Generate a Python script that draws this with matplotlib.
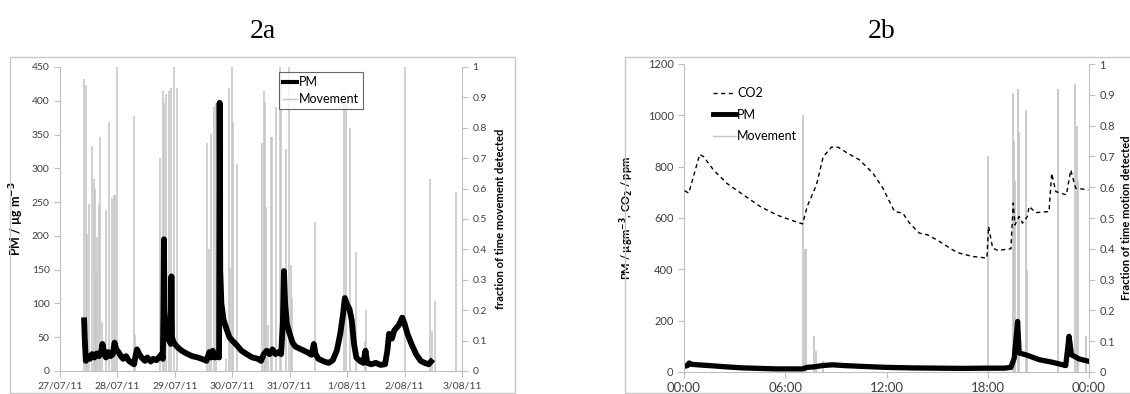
import numpy as np
import matplotlib
matplotlib.use("Agg")
import matplotlib.pyplot as plt
from matplotlib.patches import Rectangle

plt.rcParams['font.family'] = ['Lato', 'DejaVu Sans']
plt.rcParams['mathtext.fontset'] = 'dejavusans'

# ---- 2a data (days since 27/07/11) ----
pm_a_day = [0.42, 0.43, 0.45, 0.48, 0.52, 0.56, 0.60, 0.64, 0.68, 0.72, 0.74, 0.77, 0.80, 0.84,
            0.88, 0.92, 0.95, 0.98, 1.02, 1.06, 1.10, 1.15, 1.20, 1.25, 1.29, 1.31, 1.34, 1.38,
            1.42, 1.48, 1.52, 1.58, 1.62, 1.68, 1.72, 1.77, 1.79, 1.80, 1.81, 1.82, 1.85, 1.90,
            1.93, 1.94, 1.95, 1.98, 2.05, 2.12, 2.20, 2.30, 2.40, 2.50, 2.55, 2.60, 2.63, 2.66,
            2.70, 2.74, 2.77, 2.78, 2.79, 2.81, 2.85, 2.90, 2.95, 3.00, 3.08, 3.16, 3.25, 3.35,
            3.45, 3.50, 3.55, 3.60, 3.65, 3.70, 3.75, 3.80, 3.85, 3.88, 3.90, 3.92, 3.95, 4.00,
            4.05, 4.10, 4.20, 4.30, 4.38, 4.42, 4.45, 4.50, 4.60, 4.68, 4.75, 4.82, 4.88, 4.93,
            4.96, 5.00, 5.04, 5.08, 5.12, 5.16, 5.22, 5.28, 5.32, 5.35, 5.42, 5.50, 5.58, 5.66,
            5.70, 5.73, 5.78, 5.82, 5.90, 5.96, 6.00, 6.05, 6.12, 6.20, 6.28, 6.35, 6.42, 6.46]
pm_a_val = [75, 50, 15, 22, 18, 25, 20, 26, 22, 30, 40, 25, 20, 28,
            22, 25, 42, 32, 28, 22, 18, 22, 15, 12, 10, 20, 32, 25,
            20, 15, 20, 14, 18, 16, 20, 25, 18, 80, 195, 90, 55, 45,
            40, 140, 50, 42, 35, 30, 26, 22, 20, 17, 15, 28, 20, 30,
            20, 25, 20, 397, 150, 100, 75, 62, 50, 45, 38, 30, 25, 20,
            18, 15, 25, 30, 25, 32, 25, 28, 25, 70, 148, 100, 70, 55,
            42, 36, 32, 28, 24, 40, 25, 18, 14, 12, 16, 30, 55, 85,
            108, 98, 92, 75, 40, 20, 15, 12, 30, 12, 10, 12, 9, 10,
            30, 55, 48, 60, 68, 79, 70, 55, 40, 25, 15, 12, 10, 14]

mov_a_day = [0.423, 0.452, 0.475, 0.510, 0.557, 0.591, 0.609, 0.626, 0.649, 0.672, 0.701, 0.736,
             0.800, 0.858, 0.904, 0.939, 0.957, 0.986, 1.287, 1.310, 1.739, 1.786, 1.809, 1.843,
             1.896, 1.936, 1.983, 2.029, 2.551, 2.591, 2.638, 2.678, 2.713, 2.887, 2.939, 2.968,
             2.997, 3.014, 3.084, 3.513, 3.548, 3.577, 3.594, 3.629, 3.675, 3.699, 3.757, 3.826,
             3.855, 3.942, 3.988, 4.017, 4.046, 4.435, 4.939, 4.974, 5.043, 5.159, 5.304, 5.333,
             6.000, 6.435, 6.475, 6.522, 6.899]
mov_a_val = [0.96, 0.94, 0.45, 0.55, 0.74, 0.63, 0.60, 0.32, 0.44, 0.55, 0.77, 0.16,
             0.53, 0.82, 0.57, 0.58, 0.58, 1.00, 0.84, 0.12, 0.70, 0.92, 0.88, 0.91,
             0.92, 0.93, 1.00, 0.93, 0.75, 0.40, 0.78, 0.87, 0.88, 0.04, 0.93, 0.34,
             1.00, 0.82, 0.68, 0.75, 0.92, 0.88, 0.54, 0.15, 0.77, 0.77, 0.87, 1.00,
             0.98, 0.73, 1.00, 0.35, 0.24, 0.49, 0.92, 0.88, 0.80, 0.39, 0.10, 0.20,
             1.00, 0.63, 0.13, 0.23, 0.59]

date_labels = ['27/07/11', '28/07/11', '29/07/11', '30/07/11', '31/07/11', '1/08/11', '2/08/11', '3/08/11']

# ---- 2b data (hours) ----
co2_hr = [0.04, 0.28, 0.67, 0.93, 1.16, 1.75, 2.54, 3.52, 4.51, 5.49, 6.28, 7.03, 7.30, 7.85,
          8.25, 8.74, 9.13, 9.63, 10.41, 11.20, 11.79, 12.18, 12.48, 12.97, 13.36, 13.95, 14.45,
          15.13, 15.92, 16.32, 17.11, 17.95, 18.05, 18.29, 18.58, 19.37, 19.51, 19.61, 19.86,
          20.06, 20.35, 20.45, 20.85, 21.63, 21.79, 22.03, 22.66, 22.92, 23.21, 23.96]
co2_val = [706, 697, 787, 848, 839, 787, 735, 690, 645, 612, 593, 577, 645, 729,
           839, 876, 876, 855, 826, 774, 716, 664, 625, 619, 580, 541, 534,
           509, 476, 463, 450, 444, 567, 483, 474, 480, 658, 573, 606,
           580, 606, 645, 621, 625, 774, 703, 690, 787, 716, 710]

pm_b_hr = [0.0, 0.2, 0.3, 0.45, 0.8, 1.5, 2.5, 3.5, 4.5, 5.5, 6.5, 7.0, 7.3, 7.7, 8.2, 8.8,
           9.5, 10.5, 12.0, 13.5, 15.0, 16.5, 18.0, 19.0, 19.37, 19.57, 19.77, 19.86, 20.26,
           21.05, 21.83, 22.62, 22.82, 22.96, 23.41, 23.96]
pm_b_val = [22, 25, 35, 30, 28, 25, 20, 16, 14, 12, 12, 12, 18, 20, 25, 28,
            25, 22, 18, 16, 15, 14, 15, 15, 18, 54, 197, 74, 67,
            48, 38, 25, 139, 67, 51, 42]

mov_b_hr = [7.07, 7.15, 7.20, 7.72, 7.80, 8.25, 17.99, 19.47, 19.55, 19.63, 19.80, 19.86,
            20.26, 20.32, 22.19, 23.17, 23.27, 23.35, 23.80]
mov_b_val = [0.835, 0.40, 0.40, 0.118, 0.067, 0.035, 0.70, 0.905, 0.75, 0.62, 0.92, 0.78,
             0.85, 0.33, 0.92, 0.935, 0.80, 0.62, 0.116]

time_labels = ['00:00', '06:00', '12:00', '18:00', '00:00']

# ---- figure ----
fig = plt.figure(figsize=(11.3, 3.94), dpi=100)
frame_col = '#c8c8c8'
fig.patches.append(Rectangle((10 / 1130, 1 - 393 / 394), 505 / 1130, 336 / 394,
                             transform=fig.transFigure, fill=False, ec=frame_col, lw=1))
fig.patches.append(Rectangle((625 / 1130, 1 - 393 / 394), 520 / 1130, 336 / 394,
                             transform=fig.transFigure, fill=False, ec=frame_col, lw=1))

fig.text(263 / 1130, 1 - 32 / 394, '2a', family='Liberation Serif', fontsize=20, ha='center', va='center')
fig.text(882 / 1130, 1 - 32 / 394, '2b', family='Liberation Serif', fontsize=20, ha='center', va='center')

spine_col = '#bfbfbf'
lab_col = '#404040'


def style(ax, ax2):
    for a in (ax, ax2):
        for s in a.spines.values():
            s.set_visible(False)
        a.tick_params(colors=spine_col, labelcolor=lab_col, length=4, width=0.8)
    ax.spines['left'].set_visible(True)
    ax.spines['left'].set_color(spine_col)
    ax.spines['bottom'].set_visible(True)
    ax.spines['bottom'].set_color(spine_col)
    ax2.spines['right'].set_visible(True)
    ax2.spines['right'].set_color(spine_col)


# 2a
ax = fig.add_axes([60 / 1130, 1 - 371 / 394, 402 / 1130, 304 / 394])
ax2 = ax.twinx()
ln_pm, = ax.plot(pm_a_day, pm_a_val, color='black', lw=4.2, solid_joinstyle='round', zorder=2)
ax2.vlines(mov_a_day, 0, mov_a_val, color='#c4c4c4', lw=1.1)
ax.set_zorder(1)
ax.patch.set_visible(False)
ax2.set_zorder(0)
ax.set_xlim(0, 7)
ax.set_ylim(0, 450)
ax2.set_ylim(0, 1)
ax.set_xticks(range(8))
ax.set_xticklabels(date_labels)
ax.set_yticks(np.arange(0, 451, 50))
ax2.set_yticks(np.arange(0, 1.01, 0.1))
ax2.set_yticklabels(['0', '0.1', '0.2', '0.3', '0.4', '0.5', '0.6', '0.7', '0.8', '0.9', '1'])
style(ax, ax2)
ax.tick_params(axis='both', labelsize=7.5)
ax2.tick_params(axis='y', labelsize=7.5)
ax.set_ylabel(r'PM / µg m$^{\mathbf{-3}}$', fontsize=9, fontweight='bold', labelpad=4)
ax2.set_ylabel('fraction of time movement detected', fontsize=8, fontweight='bold', labelpad=6)
h_mov = plt.Line2D([], [], color='#c4c4c4', lw=1)
h_pm = plt.Line2D([], [], color='black', lw=3)
leg = ax.legend([h_pm, h_mov], ['PM', 'Movement'], loc='upper left', bbox_to_anchor=(0.545, 0.985),
                fontsize=9, frameon=True, fancybox=False, handlelength=1.1, handletextpad=0.1,
                borderpad=0.35, labelspacing=0.4, borderaxespad=0)
leg.get_frame().set_edgecolor('#404040')
leg.get_frame().set_linewidth(0.8)

# 2b
bx = fig.add_axes([684 / 1130, 1 - 372 / 394, 405 / 1130, 308 / 394])
bx2 = bx.twinx()
ln_co2, = bx.plot(co2_hr, co2_val, color='black', lw=1, ls=(0, (3, 2.5)), zorder=3)
ln_pmb, = bx.plot(pm_b_hr, pm_b_val, color='black', lw=3.8, zorder=2)
bx2.vlines(mov_b_hr, 0, mov_b_val, color='#c4c4c4', lw=1.2)
bx.set_zorder(1)
bx.patch.set_visible(False)
bx2.set_zorder(0)
bx.set_xlim(0, 24)
bx.set_ylim(0, 1200)
bx2.set_ylim(0, 1)
bx.set_xticks([0, 6, 12, 18, 24])
bx.set_xticklabels(time_labels)
bx.set_yticks(np.arange(0, 1201, 200))
bx2.set_yticks(np.arange(0, 1.01, 0.1))
bx2.set_yticklabels(['0', '0.1', '0.2', '0.3', '0.4', '0.5', '0.6', '0.7', '0.8', '0.9', '1'])
style(bx, bx2)
bx.tick_params(axis='y', labelsize=8)
bx.tick_params(axis='x', labelsize=9.5, pad=3)
bx2.tick_params(axis='y', labelsize=8)
bx.set_ylabel(r'PM / µgm$^{\mathbf{-3}}$, CO$_{\mathbf{2}}$ / ppm', fontsize=8, fontweight='bold', labelpad=8)
bx2.set_ylabel('Fraction of time motion detected', fontsize=8, fontweight='bold', labelpad=4)
h_pmb = plt.Line2D([], [], color='black', lw=3.5)
leg2 = bx.legend([ln_co2, h_pmb, h_mov], ['CO2', 'PM', 'Movement'], loc='upper left',
                 bbox_to_anchor=(0.06, 0.94), fontsize=9, frameon=False, handlelength=1.8,
                 handletextpad=0.1, labelspacing=0.75, borderaxespad=0)

fig.savefig('out.png', dpi=100)
